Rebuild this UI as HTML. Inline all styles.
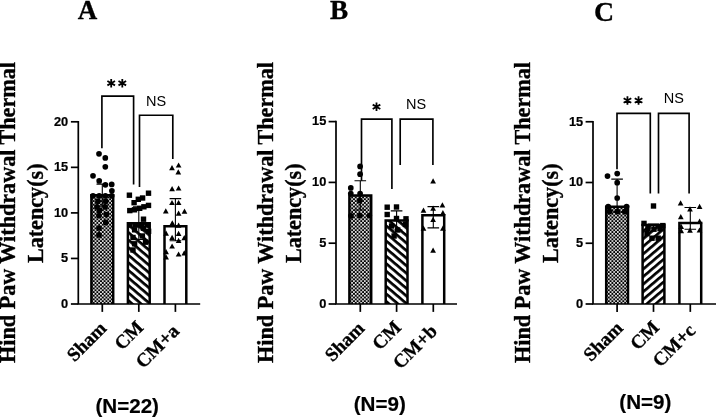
<!DOCTYPE html>
<html><head><meta charset="utf-8"><title>Hind Paw Withdrawal Thermal Latency</title>
<style>html,body{margin:0;padding:0;background:#fff}svg{display:block;filter:grayscale(1) blur(0.35px)}.sf{font-family:"Liberation Serif",serif;font-weight:bold;fill:#000;stroke:#000;stroke-width:0.35px}.ss{font-family:"Liberation Sans",sans-serif;font-weight:bold;fill:#000;stroke:#000;stroke-width:0.2px}.sn{font-family:"Liberation Sans",sans-serif;fill:#000}</style></head><body>
<svg width="716" height="418" viewBox="0 0 716 418" role="img" aria-label="Bar charts of hind paw withdrawal thermal latency">
<defs>
<pattern id="chk" width="3.64" height="3.64" patternUnits="userSpaceOnUse"><rect width="3.64" height="3.64" fill="#000"/><rect x="0" y="0" width="1.66" height="1.66" fill="#fff"/><rect x="1.82" y="1.82" width="1.66" height="1.66" fill="#fff"/></pattern>
<pattern id="hb" width="5.75" height="5.75" patternUnits="userSpaceOnUse" patternTransform="rotate(40.5)"><rect width="5.75" height="5.75" fill="#fff"/><rect width="5.75" height="2.7" fill="#000"/></pattern>
<pattern id="hf" width="5.75" height="5.75" patternUnits="userSpaceOnUse" patternTransform="rotate(-40.5)"><rect width="5.75" height="5.75" fill="#fff"/><rect width="5.75" height="2.7" fill="#000"/></pattern>
</defs>
<rect width="716" height="418" fill="#fff"/>
<g id="panelA">
<text class="sf" x="87.6" y="19.2" font-size="27" text-anchor="middle">A</text>
<text class="sf" font-size="22.15" text-anchor="middle" transform="translate(15.3 212.5) rotate(-90)">Hind Paw Withdrawal Thermal</text>
<text class="sf" font-size="22.15" text-anchor="middle" transform="translate(42.5 213.3) rotate(-90)">Latency(s)</text>
<path d="M91.4 304.0V195.2H113.2V304.0" fill="url(#chk)" stroke="#000" stroke-width="2.5" stroke-linejoin="miter"/>
<path d="M127.9 304.0V223.3H149.7V304.0" fill="url(#hb)" stroke="#000" stroke-width="2.5" stroke-linejoin="miter"/>
<path d="M164.5 304.0V226.2H186.3V304.0" fill="#fff" stroke="#000" stroke-width="2.5" stroke-linejoin="miter"/>
<path d="M102.3 184.1V206.3M96.5 184.1H108.1M96.5 206.3H108.1" stroke="#000" stroke-width="1.1" fill="none"/>
<path d="M138.8 206.9V239.5M133 206.9H144.6M133 239.5H144.6" stroke="#000" stroke-width="1.1" fill="none"/>
<path d="M175.4 198.6V240.8M169.6 198.6H181.2M169.6 240.8H181.2" stroke="#000" stroke-width="1.1" fill="none"/>
<path d="M78.3 120.95V304M77.45 304.0H200.2" stroke="#000" stroke-width="1.7" fill="none"/>
<path d="M70.9 304H78.3" stroke="#000" stroke-width="1.7"/>
<text class="ss" font-size="12.8" text-anchor="end" x="68.2" y="307.85">0</text>
<path d="M70.9 258.45H78.3" stroke="#000" stroke-width="1.7"/>
<text class="ss" font-size="12.8" text-anchor="end" x="68.2" y="262.3">5</text>
<path d="M70.9 212.9H78.3" stroke="#000" stroke-width="1.7"/>
<text class="ss" font-size="12.8" text-anchor="end" x="68.2" y="216.75">10</text>
<path d="M70.9 167.35H78.3" stroke="#000" stroke-width="1.7"/>
<text class="ss" font-size="12.8" text-anchor="end" x="68.2" y="171.2">15</text>
<path d="M70.9 121.8H78.3" stroke="#000" stroke-width="1.7"/>
<text class="ss" font-size="12.8" text-anchor="end" x="68.2" y="125.65">20</text>
<path d="M102.3 304.0V311.9" stroke="#000" stroke-width="1.7"/>
<path d="M138.8 304.0V311.9" stroke="#000" stroke-width="1.7"/>
<path d="M175.4 304.0V311.9" stroke="#000" stroke-width="1.7"/>
<g fill="#000"><circle cx="99" cy="153.8" r="2.85"/><circle cx="105.3" cy="157.9" r="2.85"/><circle cx="105.3" cy="166.8" r="2.85"/><circle cx="93" cy="175.8" r="2.85"/><circle cx="99.2" cy="180.9" r="2.85"/><circle cx="105.4" cy="184.8" r="2.85"/><circle cx="111.7" cy="184.4" r="2.85"/><circle cx="111.9" cy="190.8" r="2.85"/><circle cx="93" cy="195.8" r="2.85"/><circle cx="99.2" cy="195.8" r="2.85"/><circle cx="105.4" cy="195.8" r="2.85"/><circle cx="111.7" cy="195.8" r="2.85"/><circle cx="98" cy="201.3" r="2.85"/><circle cx="105.8" cy="201.3" r="2.85"/><circle cx="97" cy="206.9" r="2.85"/><circle cx="105" cy="206.9" r="2.85"/><circle cx="99.5" cy="210.5" r="2.85"/><circle cx="99" cy="215.6" r="2.85"/><circle cx="106.4" cy="214.6" r="2.85"/><circle cx="105.8" cy="222.4" r="2.85"/><circle cx="99" cy="228" r="2.85"/><circle cx="99" cy="234.9" r="2.85"/></g>
<g fill="#000"><rect x="126.7" y="192.5" width="5.4" height="5.4"/><rect x="145.8" y="190.5" width="5.4" height="5.4"/><rect x="139.9" y="195.3" width="5.4" height="5.4"/><rect x="135.6" y="196.6" width="5.4" height="5.4"/><rect x="131.4" y="200" width="5.4" height="5.4"/><rect x="145.8" y="202.7" width="5.4" height="5.4"/><rect x="141.2" y="204.1" width="5.4" height="5.4"/><rect x="137" y="205.6" width="5.4" height="5.4"/><rect x="127.1" y="207.9" width="5.4" height="5.4"/><rect x="131.8" y="207.1" width="5.4" height="5.4"/><rect x="140.8" y="216.5" width="5.4" height="5.4"/><rect x="127.3" y="222.3" width="5.4" height="5.4"/><rect x="132.8" y="222.3" width="5.4" height="5.4"/><rect x="138.8" y="222.3" width="5.4" height="5.4"/><rect x="144.8" y="222.3" width="5.4" height="5.4"/><rect x="131.9" y="227.1" width="5.4" height="5.4"/><rect x="140.7" y="225.5" width="5.4" height="5.4"/><rect x="145.9" y="228.6" width="5.4" height="5.4"/><rect x="130.3" y="234.8" width="5.4" height="5.4"/><rect x="139.7" y="233.3" width="5.4" height="5.4"/><rect x="131.9" y="241.1" width="5.4" height="5.4"/><rect x="142.8" y="239.5" width="5.4" height="5.4"/><rect x="130.3" y="247.3" width="5.4" height="5.4"/></g>
<g fill="#000"><path d="M178.6 162.4L181.45 167.6L175.75 167.6Z"/><path d="M172 165L174.85 170.2L169.15 170.2Z"/><path d="M178.3 169.2L181.15 174.4L175.45 174.4Z"/><path d="M172.1 186L174.95 191.2L169.25 191.2Z"/><path d="M178.6 185.4L181.45 190.6L175.75 190.6Z"/><path d="M172 199.9L174.85 205.1L169.15 205.1Z"/><path d="M178.6 199.9L181.45 205.1L175.75 205.1Z"/><path d="M165.8 208.2L168.65 213.4L162.95 213.4Z"/><path d="M184.5 208.6L187.35 213.8L181.65 213.8Z"/><path d="M178.6 210.6L181.45 215.8L175.75 215.8Z"/><path d="M172.3 220.2L175.15 225.4L169.45 225.4Z"/><path d="M178.6 222.6L181.45 227.8L175.75 227.8Z"/><path d="M166.1 230.5L168.95 235.7L163.25 235.7Z"/><path d="M178.6 230.8L181.45 236L175.75 236Z"/><path d="M172.1 234.7L174.95 239.9L169.25 239.9Z"/><path d="M184.3 235.1L187.15 240.3L181.45 240.3Z"/><path d="M178.6 237.7L181.45 242.9L175.75 242.9Z"/><path d="M172.1 243.4L174.95 248.6L169.25 248.6Z"/><path d="M166.1 249L168.95 254.2L163.25 254.2Z"/><path d="M184.3 250.2L187.15 255.4L181.45 255.4Z"/><path d="M178.6 251.4L181.45 256.6L175.75 256.6Z"/><path d="M166.1 254.2L168.95 259.4L163.25 259.4Z"/></g>
<path d="M101.9 148.3V96.1H133.6V184.4" stroke="#000" stroke-width="1.65" fill="none"/>
<path transform="translate(111.2 83.2)" d="M0 0L0 -4.2M0 0L-0 4.2M0 0L3.81 -2.2M0 0L-3.81 -2.2M0 0L-3.81 2.2M0 0L3.81 2.2" stroke="#000" stroke-width="1.8" fill="none"/><path transform="translate(122.3 83.2)" d="M0 0L0 -4.2M0 0L-0 4.2M0 0L3.81 -2.2M0 0L-3.81 -2.2M0 0L-3.81 2.2M0 0L3.81 2.2" stroke="#000" stroke-width="1.8" fill="none"/>
<path d="M139.5 187V115.2H172.8V158.9" stroke="#000" stroke-width="1.65" fill="none"/>
<text class="sn" font-size="14.5" text-anchor="middle" x="156.2" y="105.6">NS</text>
<text class="sf" font-size="19.1" text-anchor="end" transform="translate(107.6 329.5) rotate(-45)">Sham</text>
<text class="sf" font-size="19.1" text-anchor="end" transform="translate(144.4 328.6) rotate(-45)">CM</text>
<text class="sf" font-size="19.1" text-anchor="end" transform="translate(180.2 332.2) rotate(-45)">CM+a</text>
<text class="ss" font-size="20.6" text-anchor="middle" x="127.2" y="412.5">(N=22)</text>
</g>
<g id="panelB">
<text class="sf" x="339.1" y="19.4" font-size="27.2" text-anchor="middle">B</text>
<text class="sf" font-size="22.15" text-anchor="middle" transform="translate(273.4 212.5) rotate(-90)">Hind Paw Withdrawal Thermal</text>
<text class="sf" font-size="22.15" text-anchor="middle" transform="translate(300.6 213.3) rotate(-90)">Latency(s)</text>
<path d="M349.4 304.0V195.5H371.2V304.0" fill="url(#chk)" stroke="#000" stroke-width="2.5" stroke-linejoin="miter"/>
<path d="M385.7 304.0V220.5H407.5V304.0" fill="url(#hb)" stroke="#000" stroke-width="2.5" stroke-linejoin="miter"/>
<path d="M422.4 304.0V215.2H444.2V304.0" fill="#fff" stroke="#000" stroke-width="2.5" stroke-linejoin="miter"/>
<path d="M360.3 180.8V210M354.5 180.8H366.1M354.5 210H366.1" stroke="#000" stroke-width="1.1" fill="none"/>
<path d="M396.6 210.9V230M390.8 210.9H402.4M390.8 230H402.4" stroke="#000" stroke-width="1.1" fill="none"/>
<path d="M433.3 206.6V227.9M427.5 206.6H439.1M427.5 227.9H439.1" stroke="#000" stroke-width="1.1" fill="none"/>
<path d="M336.0 120.75V304M335.15 304.0H457" stroke="#000" stroke-width="1.7" fill="none"/>
<path d="M328.6 304H336.0" stroke="#000" stroke-width="1.7"/>
<text class="ss" font-size="12.8" text-anchor="end" x="326.3" y="307.85">0</text>
<path d="M328.6 243.2H336.0" stroke="#000" stroke-width="1.7"/>
<text class="ss" font-size="12.8" text-anchor="end" x="326.3" y="247.05">5</text>
<path d="M328.6 182.4H336.0" stroke="#000" stroke-width="1.7"/>
<text class="ss" font-size="12.8" text-anchor="end" x="326.3" y="186.25">10</text>
<path d="M328.6 121.6H336.0" stroke="#000" stroke-width="1.7"/>
<text class="ss" font-size="12.8" text-anchor="end" x="326.3" y="125.45">15</text>
<path d="M360.3 304.0V311.9" stroke="#000" stroke-width="1.7"/>
<path d="M396.6 304.0V311.9" stroke="#000" stroke-width="1.7"/>
<path d="M433.3 304.0V311.9" stroke="#000" stroke-width="1.7"/>
<g fill="#000"><circle cx="360.1" cy="166.4" r="2.85"/><circle cx="360.1" cy="174.2" r="2.85"/><circle cx="350.8" cy="187.9" r="2.85"/><circle cx="350.8" cy="193.5" r="2.85"/><circle cx="360.1" cy="193.5" r="2.85"/><circle cx="359.9" cy="200.5" r="2.85"/><circle cx="351" cy="215.8" r="2.85"/><circle cx="360" cy="215.5" r="2.85"/><circle cx="369.3" cy="215.5" r="2.85"/></g>
<g fill="#000"><rect x="384.5" y="204.5" width="5.4" height="5.4"/><rect x="393.8" y="204.3" width="5.4" height="5.4"/><rect x="384.5" y="211.8" width="5.4" height="5.4"/><rect x="403.3" y="216.1" width="5.4" height="5.4"/><rect x="393.8" y="215.8" width="5.4" height="5.4"/><rect x="388.9" y="223.3" width="5.4" height="5.4"/><rect x="402.8" y="221.6" width="5.4" height="5.4"/><rect x="395" y="227.3" width="5.4" height="5.4"/><rect x="391.4" y="233.3" width="5.4" height="5.4"/></g>
<g fill="#000"><path d="M433.1 178.3L435.95 183.5L430.25 183.5Z"/><path d="M442.4 202.3L445.25 207.5L439.55 207.5Z"/><path d="M433.1 205.6L435.95 210.8L430.25 210.8Z"/><path d="M423.5 207.6L426.35 212.8L420.65 212.8Z"/><path d="M442.9 210.1L445.75 215.3L440.05 215.3Z"/><path d="M433.1 216.8L435.95 222L430.25 222Z"/><path d="M423.5 225.5L426.35 230.7L420.65 230.7Z"/><path d="M442.9 225.5L445.75 230.7L440.05 230.7Z"/><path d="M433.1 247.6L435.95 252.8L430.25 252.8Z"/></g>
<path d="M361.5 180.8V119.1H391.9V189" stroke="#000" stroke-width="1.65" fill="none"/>
<path transform="translate(376.5 106.8)" d="M0 0L0 -4.2M0 0L-0 4.2M0 0L3.81 -2.2M0 0L-3.81 -2.2M0 0L-3.81 2.2M0 0L3.81 2.2" stroke="#000" stroke-width="1.8" fill="none"/>
<path d="M400.2 165.1V119.1H432.9V165.1" stroke="#000" stroke-width="1.65" fill="none"/>
<text class="sn" font-size="14.5" text-anchor="middle" x="416.2" y="109.4">NS</text>
<text class="sf" font-size="19.1" text-anchor="end" transform="translate(365.6 329.5) rotate(-45)">Sham</text>
<text class="sf" font-size="19.1" text-anchor="end" transform="translate(402.2 328.6) rotate(-45)">CM</text>
<text class="sf" font-size="19.1" text-anchor="end" transform="translate(438.3 332.2) rotate(-45)">CM+b</text>
<text class="ss" font-size="20.6" text-anchor="middle" x="379.8" y="411.1">(N=9)</text>
</g>
<g id="panelC">
<text class="sf" x="604" y="20.9" font-size="27.8" text-anchor="middle">C</text>
<text class="sf" font-size="22.15" text-anchor="middle" transform="translate(530.4 212.5) rotate(-90)">Hind Paw Withdrawal Thermal</text>
<text class="sf" font-size="22.15" text-anchor="middle" transform="translate(557.6 213.3) rotate(-90)">Latency(s)</text>
<path d="M606.2 304.0V206.8H628V304.0" fill="url(#chk)" stroke="#000" stroke-width="2.5" stroke-linejoin="miter"/>
<path d="M642.6 304.0V224.9H664.4V304.0" fill="url(#hf)" stroke="#000" stroke-width="2.5" stroke-linejoin="miter"/>
<path d="M679.4 304.0V222.9H701.2V304.0" fill="#fff" stroke="#000" stroke-width="2.5" stroke-linejoin="miter"/>
<path d="M617.1 179.1V212M611.3 179.1H622.9M611.3 212H622.9" stroke="#000" stroke-width="1.1" fill="none"/>
<path d="M653.5 224V228M647.7 224H659.3M647.7 228H659.3" stroke="#000" stroke-width="1.1" fill="none"/>
<path d="M690.3 207.5V229.3M684.5 207.5H696.1M684.5 229.3H696.1" stroke="#000" stroke-width="1.1" fill="none"/>
<path d="M593 120.9V304M592.15 304.0H716" stroke="#000" stroke-width="1.7" fill="none"/>
<path d="M585.6 304H593" stroke="#000" stroke-width="1.7"/>
<text class="ss" font-size="12.8" text-anchor="end" x="583.2" y="307.85">0</text>
<path d="M585.6 243.25H593" stroke="#000" stroke-width="1.7"/>
<text class="ss" font-size="12.8" text-anchor="end" x="583.2" y="247.1">5</text>
<path d="M585.6 182.5H593" stroke="#000" stroke-width="1.7"/>
<text class="ss" font-size="12.8" text-anchor="end" x="583.2" y="186.35">10</text>
<path d="M585.6 121.75H593" stroke="#000" stroke-width="1.7"/>
<text class="ss" font-size="12.8" text-anchor="end" x="583.2" y="125.6">15</text>
<path d="M617.1 304.0V311.9" stroke="#000" stroke-width="1.7"/>
<path d="M653.5 304.0V311.9" stroke="#000" stroke-width="1.7"/>
<path d="M690.3 304.0V311.9" stroke="#000" stroke-width="1.7"/>
<g fill="#000"><circle cx="617.2" cy="173.6" r="2.85"/><circle cx="607.5" cy="176.1" r="2.85"/><circle cx="617.2" cy="182.7" r="2.85"/><circle cx="617.2" cy="198" r="2.85"/><circle cx="608.2" cy="206.6" r="2.85"/><circle cx="626.6" cy="206.6" r="2.85"/><circle cx="609.5" cy="211.6" r="2.85"/><circle cx="617.2" cy="211.6" r="2.85"/><circle cx="624.8" cy="211.6" r="2.85"/></g>
<g fill="#000"><rect x="650.8" y="203.3" width="5.4" height="5.4"/><rect x="641.3" y="220.7" width="5.4" height="5.4"/><rect x="660.1" y="222.9" width="5.4" height="5.4"/><rect x="645.3" y="225.9" width="5.4" height="5.4"/><rect x="651.3" y="226.5" width="5.4" height="5.4"/><rect x="657.3" y="225.9" width="5.4" height="5.4"/><rect x="649.3" y="235.5" width="5.4" height="5.4"/><rect x="655.5" y="235.5" width="5.4" height="5.4"/><rect x="644.3" y="230.8" width="5.4" height="5.4"/></g>
<g fill="#000"><path d="M680.6 200.3L683.45 205.5L677.75 205.5Z"/><path d="M699.6 203.8L702.45 209L696.75 209Z"/><path d="M690 206.3L692.85 211.5L687.15 211.5Z"/><path d="M680.8 214.1L683.65 219.3L677.95 219.3Z"/><path d="M699.6 218.6L702.45 223.8L696.75 223.8Z"/><path d="M681.2 223.7L684.05 228.9L678.35 228.9Z"/><path d="M681.2 228.1L684.05 233.3L678.35 233.3Z"/><path d="M690 227.5L692.85 232.7L687.15 232.7Z"/><path d="M699.5 227.4L702.35 232.6L696.65 232.6Z"/></g>
<path d="M617 169.3V113.3H650.3V193.6" stroke="#000" stroke-width="1.65" fill="none"/>
<path transform="translate(627.45 100.5)" d="M0 0L0 -4.2M0 0L-0 4.2M0 0L3.81 -2.2M0 0L-3.81 -2.2M0 0L-3.81 2.2M0 0L3.81 2.2" stroke="#000" stroke-width="1.8" fill="none"/><path transform="translate(638.55 100.5)" d="M0 0L0 -4.2M0 0L-0 4.2M0 0L3.81 -2.2M0 0L-3.81 -2.2M0 0L-3.81 2.2M0 0L3.81 2.2" stroke="#000" stroke-width="1.8" fill="none"/>
<path d="M658.5 193.6V113.3H689.1V193.6" stroke="#000" stroke-width="1.65" fill="none"/>
<text class="sn" font-size="14.5" text-anchor="middle" x="673.8" y="103.4">NS</text>
<text class="sf" font-size="19.1" text-anchor="end" transform="translate(624 329.3) rotate(-45)">Sham</text>
<text class="sf" font-size="19.1" text-anchor="end" transform="translate(660.2 328.4) rotate(-45)">CM</text>
<text class="sf" font-size="19.1" text-anchor="end" transform="translate(696.5 331.8) rotate(-45)">CM+c</text>
<text class="ss" font-size="20.6" text-anchor="middle" x="645.4" y="409.3">(N=9)</text>
</g>
</svg></body></html>
